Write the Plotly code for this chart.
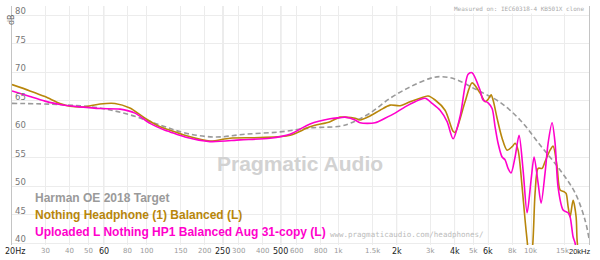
import math
import plotly.graph_objects as go

# ---------------- data ----------------
target_freq = [20, 35.5, 57, 82, 118, 159, 227, 326, 495, 709, 1015, 1145, 1454, 1848, 2348, 2984,
               3362, 3800, 4273, 4934, 5430, 6898, 8764, 11136, 14148, 16932, 19080, 20000]
target_db = [64.5, 64.3, 63.7, 62.5, 60.7, 59.3, 58.6, 59.1, 59.5, 60.2, 60.5, 61.0, 62.8, 65.4, 67.4, 68.9,
             69.2, 69.0, 68.4, 67.3, 66.6, 64.7, 61.6, 57.2, 52.8, 48.8, 44.0, 40.8]

nothing_freq = [20, 24.8, 29.7, 35.5, 40, 47.9, 57.4, 68.6, 82, 98.3, 117.7, 132.6, 158.8, 214, 272, 390,
                558, 709, 901, 1015, 1078, 1216, 1291, 1454, 1639, 1848, 2084, 2348, 2647, 2912, 3169,
                3570, 3930, 4024, 4536, 4934, 5430, 5765, 5976, 6194, 6345, 6655, 7066, 7501, 7965, 8256,
                8557, 8976, 9306, 9532, 9800, 10118, 10490, 10874, 11406, 11820, 12552, 13010, 13648,
                14148, 14844, 15204, 15572, 15948, 16532, 17140, 17346, 18000, 20000]
nothing_db = [67.8, 66.7, 65.7, 64.5, 64.0, 63.9, 64.4, 64.5, 63.7, 61.9, 60.4, 59.8, 58.9, 57.9, 58.4, 58.5,
              58.9, 60.4, 61.3, 62.1, 62.1, 61.9, 61.6, 62.3, 63.3, 64.2, 64.1, 64.8, 65.4, 65.8, 65.1,
              63.3, 59.6, 59.4, 64.8, 68.1, 66.3, 64.8, 65.2, 66.0, 65.1, 61.9, 58.4, 56.3, 56.9, 57.5,
              56.3, 49.9, 44.0, 40.5, 37.0, 38.5, 48.8, 53.1, 53.1, 54.3, 56.3, 57.0, 53.4,
              49.3, 49.0, 48.7, 46.4, 44.6, 47.5, 44.6, 40.5, 36.0, 33.0]

uploaded_freq = [20, 24.8, 29.7, 35.5, 45.2, 57.4, 72.9, 87.2, 104.4, 124.9, 132.6, 158.8, 214, 307, 439,
                 558, 709, 901, 1015, 1078, 1216, 1291, 1544, 1740, 1962, 2212, 2493, 2810, 3057, 3362,
                 3658, 3930, 4273, 4703, 4934, 5430, 5628, 5976, 6269, 6498, 6735, 7066, 7324, 7591, 7869,
                 8256, 8660, 9085, 9532, 10000, 10364, 10874, 11272, 11820, 12256, 12856, 13326, 13812,
                 14666, 15572, 15948, 16532, 16932, 17500, 20000]
uploaded_db = [66.7, 65.7, 64.9, 64.3, 63.9, 63.6, 63.5, 62.8, 61.0, 59.8, 59.5, 58.6, 57.8, 58.1, 58.4,
               59.1, 60.9, 61.8, 62.0, 62.1, 61.6, 61.1, 61.1, 61.9, 62.8, 63.9, 64.8, 65.4, 64.5, 63.3,
               61.3, 58.3, 62.2, 69.6, 69.9, 66.8, 65.1, 64.6, 63.6, 60.4, 57.5, 55.1, 54.6, 53.1, 52.3,
               55.1, 58.9, 52.8, 45.3, 51.1, 55.1, 50.5, 47.0, 52.3, 57.5, 61.1, 57.5, 49.8,
               45.8, 45.3, 44.6, 41.1, 40.0, 37.0, 33.0]

series_names = ["Harman OE 2018 Target", "Nothing Headphone (1) Balanced (L)",
                "Uploaded L Nothing HP1 Balanced Aug 31-copy (L)"]

x_tick_vals = [20, 30, 40, 50, 60, 80, 100, 150, 200, 250, 300, 400, 500, 600, 800, 1000, 1500, 2000,
               3000, 4000, 5000, 6000, 8000, 10000, 15000, 20000]
x_tick_text = ["20Hz", "30", "40", "50", "60", "80", "100", "150", "200", "250", "300", "400", "500", "600",
               "800", "1k", "1.5k", "2k", "3k", "4k", "5k", "6k", "8k", "10k", "15k", "20kHz"]
x_major_ticks = [20, 60, 250, 500, 2000, 4000, 6000, 20000]
y_tick_vals = [40, 45, 50, 55, 60, 65, 70, 75, 80]

# ---------------- styling ----------------
GRAY = "#9a9a9a"
GOLD = "#b8860b"
MAGENTA = "#ff00cc"
Y_MIN, Y_MAX = 39.65, 81.6

fig = go.Figure()
fig.add_trace(go.Scatter(x=target_freq, y=target_db, mode="lines", name=series_names[0],
                         line=dict(color=GRAY, width=1.6, dash="5px,3px", shape="spline", smoothing=1.0)))
fig.add_trace(go.Scatter(x=nothing_freq, y=nothing_db, mode="lines", name=series_names[1],
                         line=dict(color=GOLD, width=1.6, shape="spline", smoothing=0.8)))
fig.add_trace(go.Scatter(x=uploaded_freq, y=uploaded_db, mode="lines", name=series_names[2],
                         line=dict(color=MAGENTA, width=1.6, shape="spline", smoothing=0.8)))

shapes = []
for v in x_major_ticks[1:-1]:
    shapes.append(dict(type="line", xref="x", yref="paper", x0=v, x1=v, y0=0, y1=1,
                       line=dict(color="#d6d6d6", width=1), layer="below"))

annotations = []
# x tick labels
n_ticks = len(x_tick_vals)
for i, (v, t) in enumerate(zip(x_tick_vals, x_tick_text)):
    major = v in x_major_ticks
    anchor = "center"
    xshift = 0
    family = "DejaVu Sans"
    size = 8 if major else 7
    if i == 0:
        xshift = 3
    if i == n_ticks - 2:
        xshift = -2
    if i == n_ticks - 1:
        anchor = "right"
        xshift = 3
        family = "Liberation Sans"
        size = 7.5
    annotations.append(dict(
        text=t, x=math.log10(v), xref="x", y=0, yref="paper", xanchor=anchor, yanchor="middle",
        yshift=-6, xshift=xshift, showarrow=False, borderpad=0,
        font=dict(family=family, size=size, color="#222" if major else "#999")))
# y tick labels
for v in y_tick_vals:
    annotations.append(dict(
        text=str(v), x=0, xref="paper", y=v, yref="y", xanchor="left", yanchor="middle",
        xshift=1, yshift=4, showarrow=False,
        font=dict(family="DejaVu Sans", size=8.5, color="#777")))

annotations += [
    dict(text="Pragmatic Audio", x=0.499, y=0.343, xref="paper", yref="paper", showarrow=False,
         font=dict(family="Liberation Sans", size=21, color="#d2d2d2", weight="bold")),
    dict(text="www.pragmaticaudio.com/headphones/", x=0.5477, y=0.046, xref="paper", yref="paper",
         xanchor="left", yanchor="middle", showarrow=False,
         font=dict(family="DejaVu Sans Mono", size=7.5, color="#bbbbbb")),
    dict(text="Measured on: IEC60318-4 KB501X clone", x=0.994, y=0.991, xref="paper", yref="paper",
         xanchor="right", yanchor="middle", showarrow=False, bgcolor="white", borderpad=1,
         font=dict(family="DejaVu Sans Mono", size=6, color="#aaaaaa")),
    dict(text="dB", x=-0.012, y=0.975, xref="paper", yref="paper", textangle=-90, showarrow=False,
         font=dict(family="DejaVu Sans", size=8, color="#666")),
]
legend_colors = [GRAY, GOLD, MAGENTA]
legend_y = [0.1967, 0.1255, 0.0544]
for name, col, yy in zip(series_names, legend_colors, legend_y):
    annotations.append(dict(text=name, x=0.0364, y=yy, xref="paper", yref="paper",
                            xanchor="left", yanchor="middle", showarrow=False,
                            font=dict(family="Liberation Sans", size=12, color=col, weight="bold")))

fig.update_layout(
    width=600, height=260,
    margin=dict(l=12, r=11, t=6, b=15, pad=0),
    paper_bgcolor="white", plot_bgcolor="white",
    showlegend=False,
    shapes=shapes,
    annotations=annotations,
    xaxis=dict(type="log", range=[math.log10(20), math.log10(20000)],
               tickmode="array", tickvals=x_tick_vals, showticklabels=False,
               showgrid=True, gridcolor="#ececec", gridwidth=1, zeroline=False,
               showline=False, ticks="", automargin=False),
    yaxis=dict(range=[Y_MIN, Y_MAX], tickmode="array", tickvals=y_tick_vals, showticklabels=False,
               showgrid=True, gridcolor="#ececec", gridwidth=1, zeroline=False,
               showline=True, linecolor="#c4c4c4", linewidth=1, mirror=True,
               ticks="", automargin=False),
)

fig.write_html("out.html")
